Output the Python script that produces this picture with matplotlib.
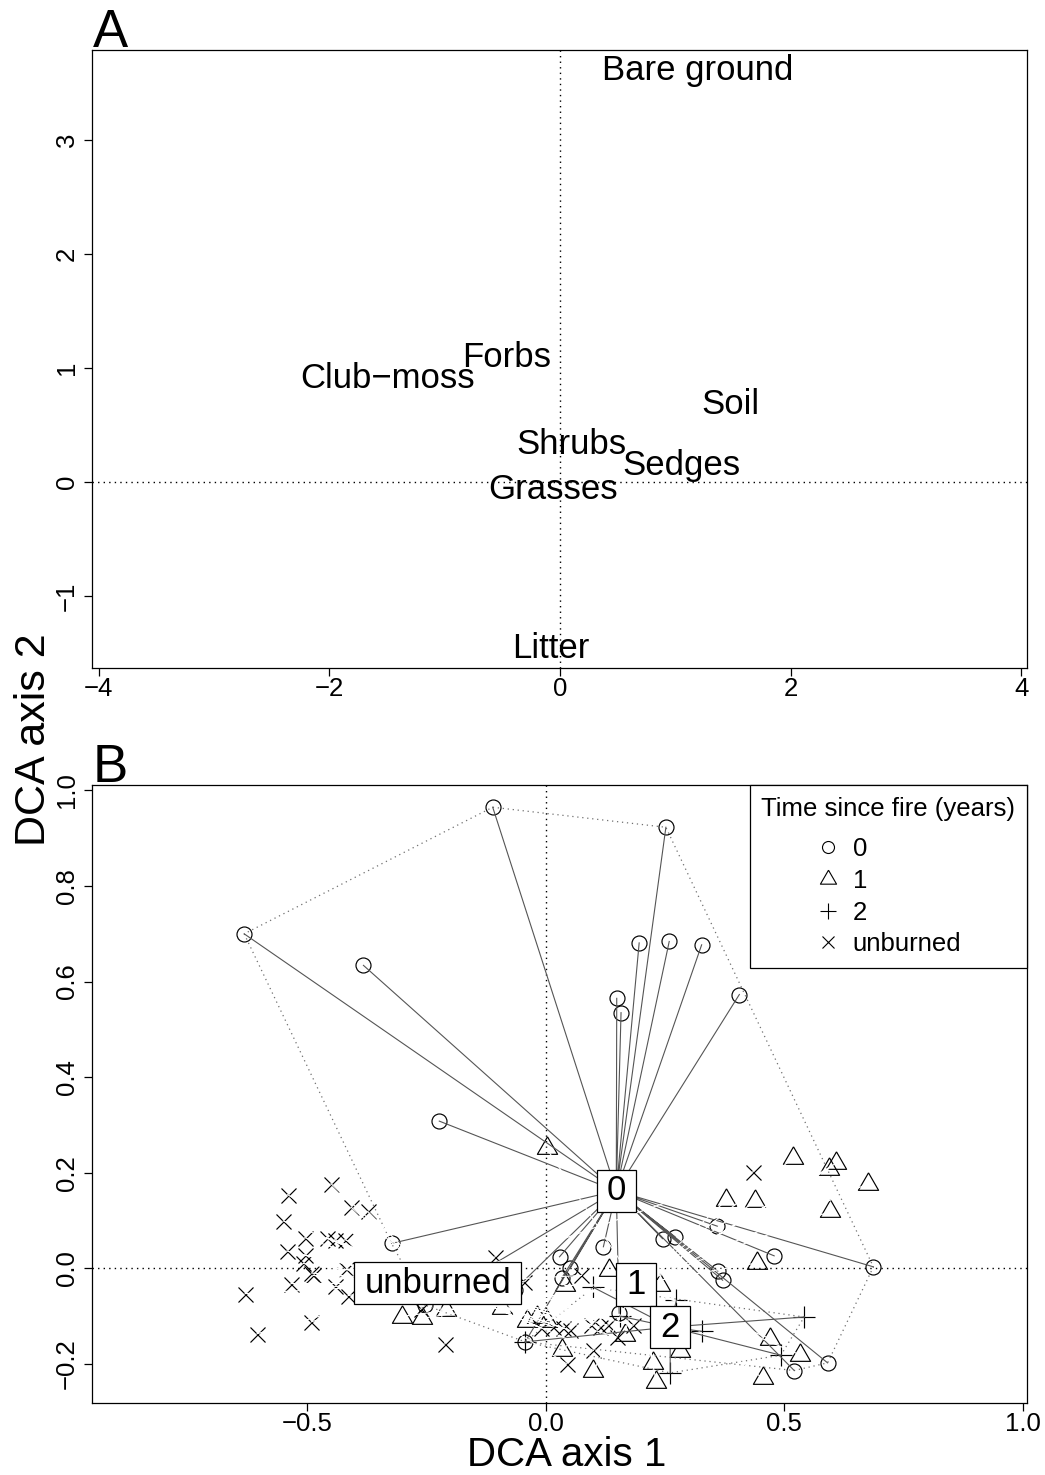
import numpy as np
import matplotlib
matplotlib.use("Agg")
import matplotlib.pyplot as plt
from matplotlib.path import Path
from matplotlib.lines import Line2D

plt.rcParams['font.family'] = ['Liberation Sans', 'DejaVu Sans']

# ---------------- Panel A: cover-type scores ----------------
cover_labels = ["Bare ground", "Forbs", "Club\u2212moss", "Soil", "Shrubs",
                "Sedges", "Grasses", "Litter"]
cover_x = [1.19, -0.46, -1.50, 1.48, 0.10, 1.05, -0.06, -0.08]
cover_y = [3.61, 1.09, 0.91, 0.68, 0.33, 0.14, -0.07, -1.46]
a_xticks = [-4, -2, 0, 2, 4]
a_yticks = [-1, 0, 1, 2, 3]

# ---------------- Panel B: site scores by time since fire ----------------
g0_x = [-0.632, -0.111, -0.382, 0.252, 0.196, 0.259, 0.327, 0.149, 0.158, 0.406,
        -0.223, -0.323, 0.687, 0.029, 0.052, 0.034, 0.121, 0.245, 0.271, 0.360,
        0.479, 0.361, 0.371, 0.154, 0.591, 0.521, -0.043, -0.253, -0.065]
g0_y = [0.700, 0.965, 0.634, 0.923, 0.681, 0.684, 0.677, 0.565, 0.535, 0.573,
        0.308, 0.052, 0.003, 0.024, 0.001, -0.020, 0.045, 0.062, 0.066, 0.088,
        0.026, -0.006, -0.025, -0.094, -0.198, -0.214, -0.154, -0.077, -0.045]

g1_x = [0.002, 0.160, 0.519, 0.593, 0.609, 0.676, 0.378, 0.439, 0.596, 0.442,
        0.133, 0.240, 0.470, 0.533, 0.455, 0.226, 0.232, 0.282, 0.100, 0.034,
        0.040, 0.166, -0.040, -0.019, 0.002, -0.302, -0.260, -0.208, -0.092]
g1_y = [0.251, 0.170, 0.231, 0.208, 0.220, 0.177, 0.142, 0.140, 0.119, 0.011,
        -0.003, -0.035, -0.147, -0.181, -0.230, -0.199, -0.237, -0.174, -0.216, -0.171,
        -0.036, -0.139, -0.111, -0.103, -0.110, -0.101, -0.105, -0.087, -0.084]

g2_x = [0.542, 0.327, 0.493, 0.261, 0.100, 0.274, 0.155, -0.043]
g2_y = [-0.102, -0.132, -0.182, -0.219, -0.040, -0.067, -0.100, -0.154]

gu_x = [-0.450, -0.541, -0.550, -0.408, -0.373, -0.505, -0.459, -0.442, -0.421, -0.543,
        -0.505, -0.508, -0.491, -0.488, -0.534, -0.442, -0.418, -0.414, -0.630, -0.491,
        -0.605, -0.211, -0.262, -0.106, -0.045, 0.435, 0.075, 0.037, 0.051, 0.016,
        0.096, 0.114, 0.131, 0.149, 0.100, 0.044, 0.184, -0.010]
gu_y = [0.177, 0.154, 0.099, 0.128, 0.119, 0.064, 0.064, 0.060, 0.060, 0.036,
        0.027, 0.010, -0.010, -0.015, -0.032, -0.038, -0.001, -0.057, -0.053, -0.112,
        -0.137, -0.158, -0.086, 0.024, -0.028, 0.202, -0.015, -0.126, -0.130, -0.123,
        -0.119, -0.123, -0.119, -0.144, -0.172, -0.200, -0.119, -0.125]

group_labels = ["0", "1", "2", "unburned"]
cent_x = [0.148, 0.189, 0.261, -0.226]
cent_y = [0.162, -0.034, -0.123, -0.031]
spider_cols = ["#555555", "white", "#555555", "white"]
hull_groups = [0, 2]

b_xticks = [-0.5, 0.0, 0.5, 1.0]
b_yticks = [-0.2, 0.0, 0.2, 0.4, 0.6, 0.8, 1.0]

# ---------------- styling ----------------
W, H = 1045, 1475
fig = plt.figure(figsize=(W / 100, H / 100), dpi=100)
axA = fig.add_axes([92 / W, 1 - 668 / H, 935 / W, 618 / H])
axB = fig.add_axes([92 / W, 1 - 1403 / H, 935 / W, 618 / H])

TICK_FS = 18.5
LAB_FS = 25

R = 7.5  # symbol radius in pixels
px2pt = 72 / 100.0
tri_verts = [(0, 1.555), (1.347, -0.778), (-1.347, -0.778), (0, 1.555)]
ms_circle = 2 * R * px2pt
ms_tri = 2 * 1.555 * R * px2pt
ms_plus = 2 * 1.414 * R * px2pt
ms_x = 2 * R * px2pt


def style_axis(ax, xt, yt, fmt):
    for s in ax.spines.values():
        s.set_linewidth(0.9)
    ax.set_xticks(xt)
    ax.set_yticks(yt)
    ax.set_xticklabels([fmt(v) for v in xt])
    ax.set_yticklabels([fmt(v) for v in yt], rotation=90, va='center')
    ax.tick_params(direction='out', length=5.5, width=0.9, labelsize=TICK_FS, pad=4)
    ax.tick_params(axis='x', pad=1.0)
    ax.axhline(0, color='black', ls=(0, (1, 3)), lw=1.0, zorder=1)
    ax.axvline(0, color='black', ls=(0, (1, 3)), lw=1.0, zorder=1)


def fmt_int(v):
    return ("\u2212%d" % abs(v)) if v < 0 else "%d" % v


def fmt_1(v):
    return ("\u2212%.1f" % abs(v)) if v < 0 else "%.1f" % v


# Panel A
axA.set_xlim(-4.06, 4.05)
axA.set_ylim(-1.632, 3.789)
style_axis(axA, a_xticks, a_yticks, fmt_int)
for lab, x, y in zip(cover_labels, cover_x, cover_y):
    axA.text(x, y, lab, ha='center', va='center', fontsize=LAB_FS)

# Panel B
axB.set_xlim(-0.951, 1.009)
axB.set_ylim(-0.282, 1.0115)
style_axis(axB, b_xticks, b_yticks, fmt_1)

mk = dict(ls='none', mfc='none', mec='black', mew=0.85, zorder=2)
axB.plot(g0_x, g0_y, marker='o', ms=ms_circle, **mk)
axB.plot(g1_x, g1_y, marker=tri_verts, ms=ms_tri, **mk)
axB.plot(g2_x, g2_y, marker='+', ms=ms_plus, **mk)
axB.plot(gu_x, gu_y, marker='x', ms=ms_x, **mk)


def convex_hull(xs, ys):
    pts = sorted(set(zip(xs, ys)))

    def cross(o, a, b):
        return (a[0] - o[0]) * (b[1] - o[1]) - (a[1] - o[1]) * (b[0] - o[0])
    lower, upper = [], []
    for p in pts:
        while len(lower) >= 2 and cross(lower[-2], lower[-1], p) <= 0:
            lower.pop()
        lower.append(p)
    for p in reversed(pts):
        while len(upper) >= 2 and cross(upper[-2], upper[-1], p) <= 0:
            upper.pop()
        upper.append(p)
    h = lower[:-1] + upper[:-1]
    h.append(h[0])
    return np.array(h)


groups_x = [g0_x, g1_x, g2_x, gu_x]
groups_y = [g0_y, g1_y, g2_y, gu_y]

for gi in hull_groups:
    hp = convex_hull(groups_x[gi], groups_y[gi])
    axB.plot(hp[:, 0], hp[:, 1], color='#707070', ls=(0, (1, 3)), lw=0.9, zorder=2.5)

for gi in range(4):
    px = np.asarray(groups_x[gi])
    py = np.asarray(groups_y[gi])
    n = len(px)
    sx = np.column_stack([np.full(n, cent_x[gi]), px, np.full(n, np.nan)]).ravel()
    sy = np.column_stack([np.full(n, cent_y[gi]), py, np.full(n, np.nan)]).ravel()
    axB.plot(sx, sy, color=spider_cols[gi], lw=0.8, zorder=3)


def r_box(x0, y0, width, height, mutation_size):
    padx = 0.29 * mutation_size
    pady = 0.13 * mutation_size
    xa, xb = x0 - padx, x0 + width + padx
    ya, yb = y0 - pady, y0 + height + pady
    return Path([(xa, ya), (xb, ya), (xb, yb), (xa, yb), (xa, ya)], closed=True)


for lab, x, y in zip(group_labels, cent_x, cent_y):
    axB.text(x, y, lab, ha='center', va='center', fontsize=LAB_FS, zorder=6,
             bbox=dict(boxstyle=r_box, facecolor='white', edgecolor='black', lw=0.9))

# legend
f = 0.8
handles = [
    Line2D([], [], marker='o', ms=ms_circle * f, ls='none', mfc='none', mec='black', mew=0.8),
    Line2D([], [], marker=tri_verts, ms=ms_tri * f, ls='none', mfc='none', mec='black', mew=0.8),
    Line2D([], [], marker='+', ms=ms_plus * f, ls='none', mfc='none', mec='black', mew=0.8),
    Line2D([], [], marker='x', ms=ms_x * f, ls='none', mfc='none', mec='black', mew=0.8),
]
leg = axB.legend(handles, group_labels, title="Time since fire (years)", loc='upper right',
                 borderaxespad=0, frameon=True, fancybox=False, edgecolor='black',
                 framealpha=1, fontsize=TICK_FS, title_fontsize=TICK_FS,
                 labelspacing=0.3, handlelength=1.0, handletextpad=0.45,
                 borderpad=0.45, numpoints=1)
leg.get_frame().set_linewidth(0.9)
leg.set_zorder(10)
try:
    leg._legend_box.sep = 12
except Exception:
    pass

# outer labels
fig.text(93 / W, 1 - 47 / H, "A", fontsize=38, ha='left', va='baseline')
fig.text(93 / W, 1 - 782 / H, "B", fontsize=38, ha='left', va='baseline')
fig.text(567 / W, 1 - 1466 / H, "DCA axis 1", fontsize=29, ha='center', va='baseline')
fig.text(34 / W, 1 - 740 / H, "DCA axis 2", fontsize=31, ha='center', va='center',
         rotation=90)

fig.savefig("out.png", dpi=100)
